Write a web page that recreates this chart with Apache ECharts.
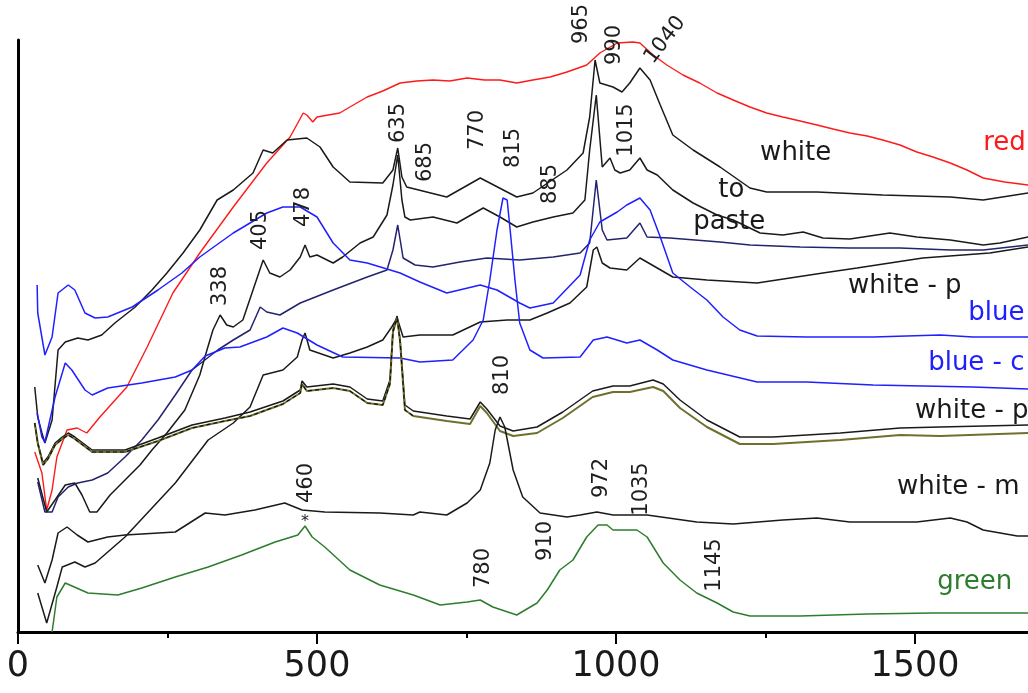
<!DOCTYPE html>
<html><head><meta charset="utf-8">
<script src="https://cdn.jsdelivr.net/npm/echarts@6/dist/echarts.min.js"></script>
<style>html,body{margin:0;padding:0;background:#fff}#c{width:1028px;height:693px}</style>
</head><body><div id="c"></div>
<script>
// Raman shift (cm-1), offset intensity (a.u.)
const xTicks = [0, 500, 1000, 1500, 2000];
const redSpec = [[28,180],[40,159],[48,122],[57,142],[65,175],[82,202],[99,204],[115,199],[137,215],[182,245],[216,285],[259,339],[304,379],[360,425],[416,469],[455,495],[477,519],[483,517],[493,510],[500,515],[538,519],[555,525],[584,535],[610,541],[639,549],[667,551],[694,552],[722,551],[751,554],[780,552],[806,552],[834,549],[861,552],[890,555],[918,560],[951,567],[973,579],[1002,589],[1028,590],[1040,589],[1062,577],[1085,567],[1112,557],[1140,549],[1169,539],[1196,532],[1224,525],[1252,519],[1279,515],[1308,511],[1336,507],[1363,503],[1391,499],[1420,496],[1446,492],[1475,487],[1503,480],[1530,475],[1559,469],[1587,462],[1614,454],[1650,450],[1689,447],[1700,446]];
const whiteSpec = [[28,245],[33,215],[40,199],[45,189],[57,212],[67,282],[79,290],[100,294],[117,292],[140,297],[162,309],[196,325],[224,342],[249,359],[276,379],[304,402],[333,432],[360,442],[393,459],[410,482],[426,479],[450,492],[483,494],[505,485],[527,465],[555,450],[610,449],[627,462],[635,484],[642,455],[650,445],[717,435],[773,454],[834,435],[861,439],[918,462],[945,479],[956,515],[965,572],[973,549],[995,545],[1010,540],[1023,549],[1040,564],[1057,552],[1074,527],[1095,497],[1129,482],[1174,465],[1224,444],[1252,440],[1336,440],[1446,437],[1559,435],[1614,432],[1689,439],[1700,440]];
const pasteSpec = [[33,154],[48,120],[62,132],[79,147],[95,149],[107,137],[120,120],[132,120],[154,137],[179,152],[204,167],[224,182],[249,199],[279,222],[304,257],[316,282],[326,302],[338,317],[349,307],[360,305],[376,312],[393,342],[410,372],[421,359],[438,355],[455,362],[472,375],[480,387],[488,375],[500,377],[527,369],[543,375],[572,389],[594,395],[617,417],[627,447],[635,477],[642,432],[647,415],[656,412],[694,415],[734,409],[778,424],[806,415],[834,405],[861,410],[895,415],[928,419],[948,432],[956,482],[967,537],[977,465],[990,474],[998,462],[1007,459],[1023,462],[1040,474],[1052,462],[1069,457],[1095,442],[1129,429],[1169,417],[1196,412],[1241,399],[1279,397],[1313,400],[1346,394],[1391,393],[1458,399],[1503,395],[1559,392],[1614,387],[1642,389],[1689,395],[1700,396]];
const navySpec = [[33,150],[45,120],[57,120],[67,135],[84,145],[100,149],[124,152],[150,159],[179,175],[207,192],[234,212],[263,237],[291,262],[334,282],[360,292],[388,302],[405,325],[416,320],[438,317],[472,329],[527,342],[584,355],[617,362],[627,382],[635,407],[644,374],[664,367],[694,365],[739,370],[784,374],[839,372],[895,375],[940,379],[956,389],[967,452],[977,402],[985,392],[1018,394],[1040,409],[1052,395],[1090,394],[1174,390],[1224,387],[1308,385],[1391,384],[1475,384],[1559,382],[1614,382],[1689,387],[1700,387]];
const whitePSpec = [[33,39],[48,9],[65,45],[74,65],[95,70],[112,65],[129,69],[179,95],[263,149],[318,192],[360,209],[388,225],[410,257],[443,262],[467,275],[475,292],[480,299],[488,282],[527,274],[555,279],[584,285],[610,292],[625,305],[634,314],[644,295],[672,297],[727,297],[773,310],[818,312],[856,312],[885,319],[923,329],[951,345],[962,382],[968,385],[977,369],[990,364],[1018,362],[1040,374],[1069,364],[1095,355],[1152,352],[1236,349],[1291,354],[1346,359],[1403,364],[1513,374],[1625,379],[1689,385],[1700,386]];
const blueSpec = [[32,347],[33,319],[45,277],[48,277],[57,295],[67,339],[84,347],[95,342],[112,319],[129,314],[150,315],[191,325],[234,342],[274,359],[304,375],[360,399],[416,419],[443,425],[472,425],[500,415],[527,389],[555,372],[584,369],[639,359],[672,350],[717,339],[773,347],[801,342],[839,329],[856,324],[895,329],[940,357],[956,392],[973,410],[1002,420],[1018,427],[1040,434],[1057,422],[1074,395],[1095,359],[1124,345],[1152,332],[1179,315],[1207,302],[1236,296],[1319,295],[1430,295],[1542,297],[1597,295],[1689,295],[1700,295]];
const blueCSpec = [[32,219],[40,195],[45,190],[62,235],[79,269],[90,262],[112,242],[124,237],[150,244],[207,249],[263,255],[291,262],[313,276],[346,284],[371,285],[416,295],[443,304],[467,299],[500,287],[543,275],[639,274],[672,270],[727,272],[761,292],[778,312],[789,352],[801,402],[811,434],[818,432],[823,402],[831,352],[839,309],[856,282],[878,274],[940,275],[962,292],[985,295],[1018,289],[1040,292],[1069,282],[1095,272],[1152,262],[1236,250],[1319,250],[1430,247],[1597,245],[1689,243],[1700,243]];
const whiteP2Spec = [[28,209],[33,189],[42,169],[50,175],[62,189],[74,195],[84,199],[95,195],[124,182],[179,182],[234,194],[291,207],[346,214],[388,220],[443,231],[472,242],[475,251],[483,245],[527,248],[555,245],[584,233],[610,231],[622,252],[627,302],[634,316],[639,292],[647,227],[661,221],[717,216],[756,213],[773,230],[784,223],[806,206],[828,201],[868,205],[911,220],[961,241],[995,246],[1023,246],[1062,252],[1079,248],[1107,232],[1152,212],[1207,195],[1263,195],[1375,199],[1475,204],[1542,205],[1689,207],[1700,207]];
const oliveSpec = [[28,209],[33,189],[42,167],[50,173],[62,187],[74,193],[84,197],[95,193],[124,180],[179,180],[234,191],[291,204],[346,211],[388,216],[443,228],[472,239],[475,248],[483,241],[527,244],[555,241],[584,229],[610,227],[622,248],[627,300],[634,314],[639,290],[647,222],[661,216],[717,211],[756,208],[773,226],[784,219],[806,201],[828,196],[868,199],[911,214],[961,235],[995,240],[1023,240],[1062,245],[1079,241],[1107,224],[1152,205],[1207,188],[1263,188],[1375,192],[1475,197],[1542,196],[1689,199],[1700,199]];
const whiteMSpec = [[33,67],[45,49],[57,72],[67,99],[82,105],[99,97],[117,90],[150,95],[179,97],[263,100],[313,119],[346,117],[396,122],[446,129],[475,122],[513,120],[605,119],[661,117],[672,120],[717,117],[751,129],[773,142],[789,169],[798,202],[806,215],[814,205],[828,162],[844,135],[873,119],[918,115],[940,117],[968,120],[995,117],[1052,117],[1135,110],[1196,108],[1279,112],[1336,114],[1391,110],[1503,110],[1559,114],[1587,110],[1614,102],[1671,96],[1700,96]];
const greenSpec = [[57,0],[65,35],[79,49],[117,39],[167,37],[207,44],[263,55],[318,65],[374,77],[430,90],[468,97],[480,106],[492,95],[513,85],[555,62],[605,47],[661,37],[706,27],[751,30],[773,32],[794,25],[834,17],[868,29],[885,42],[906,62],[928,72],[951,95],[970,107],[985,107],[995,102],[1035,102],[1052,95],[1079,69],[1107,52],[1135,39],[1169,29],[1196,20],[1224,16],[1308,16],[1420,18],[1530,19],[1700,19]];
// peak annotations: text, raman shift, intensity, rotation
const peakLabels = [["965",943,608,90],["990",997,587,90],["1040",1082,592,52],["1015",1018,502,90],["635",637,509,90],["685",682,470,90],["770",769,502,90],["815",828,484,90],["885",891,448,90],["405",405,402,90],["478",477,425,90],["338",339,346,90],["460",483,149,90],["810",811,257,90],["972",975,154,90],["1035",1042,143,90],["910",883,91,90],["780",779,64,90],["1145",1164,67,90]];
// curve names: text, raman shift (left edge), intensity, colour
const curveLabels = [["red",1614,489,"#ff1a1a"],["white",1241,479,"#1a1a1a"],["to",1171,442,"#1a1a1a"],["paste",1129,410,"#1a1a1a"],["white - p",1388,346,"#1a1a1a"],["blue",1589,319,"#2020ff"],["blue - c",1522,269,"#2020ff"],["white - p",1500,221,"#1a1a1a"],["white - m",1470,145,"#1a1a1a"],["green",1537,50,"#2e7d2e"]];

const chart = echarts.init(document.getElementById('c'), null, {renderer:'canvas'});
function line(data, color, w, extra){
  return Object.assign({type:'line', data, showSymbol:false, symbol:'none', smooth:false,
    lineStyle:{color, width:w}, animation:false, silent:true, z:2}, extra||{});
}
const txt = {type:'scatter', symbolSize:0, clip:false, silent:true, animation:false, z:5,
  itemStyle:{opacity:1}};
const series = [
  line(redSpec,'#ff1a1a',1.4),
  line(whiteSpec,'#1a1a1a',1.5),
  line(pasteSpec,'#1a1a1a',1.5),
  line(navySpec,'#23236e',1.5),
  line(whitePSpec,'#1a1a1a',1.5),
  line(blueSpec,'#2020ff',1.5),
  line(blueCSpec,'#2020ff',1.5),
  line(whiteP2Spec,'#1a1a1a',1.5),
  line(oliveSpec,'#6f6f2e',2),
  line(oliveSpec.filter(p=>p[0]<=700),'#111',1.2,{lineStyle:{color:'#111',width:1.2,type:[4,3]},z:3}),
  line(whiteMSpec,'#1a1a1a',1.5),
  line(greenSpec,'#2e7d2e',1.5),
  Object.assign({}, txt, {data: peakLabels.map(p=>({value:[p[1],p[2]], label:{rotate:p[3], formatter:p[0]}})),
   label:{show:true, position:'inside', color:'#1e1e1e', opacity:1, textBorderWidth:0, fontSize:21, fontFamily:'DejaVu Sans'}}),
  Object.assign({}, txt, {data:[{value:[480,110]}],
   label:{show:true, position:'inside', formatter:'*', color:'#1e1e1e', opacity:1, textBorderWidth:0, fontSize:16, fontFamily:'DejaVu Sans'}}),
  Object.assign({}, txt, {data: curveLabels.map(p=>({value:[p[1],p[2]], label:{formatter:p[0], color:p[3]}})),
   label:{show:true, position:'right', distance:0, opacity:1, textBorderWidth:0, fontSize:26, fontFamily:'DejaVu Sans'}})
];
chart.setOption({
  backgroundColor:'#fff',
  animation:false,
  grid:{left:18, top:40, bottom:61, width:1196, containLabel:false, outerBoundsMode:'none'},
  xAxis:{type:'value', min:xTicks[0], max:xTicks[xTicks.length-1], interval:500,
    axisLine:{show:true, onZero:false, lineStyle:{color:'#000', width:3}},
    axisTick:{show:true, inside:false, length:12, lineStyle:{color:'#000', width:2}},
    minorTick:{show:true, splitNumber:2, length:6, lineStyle:{color:'#000', width:2}},
    splitLine:{show:false},
    axisLabel:{show:true, margin:17, color:'#1a1a1a', fontSize:35, fontFamily:'DejaVu Sans', formatter: v => String(v)}},
  yAxis:{type:'value', min:0, max:592,
    axisLine:{show:true, lineStyle:{color:'#000', width:3}},
    axisTick:{show:false}, axisLabel:{show:false}, splitLine:{show:false}},
  series
});
</script></body></html>
